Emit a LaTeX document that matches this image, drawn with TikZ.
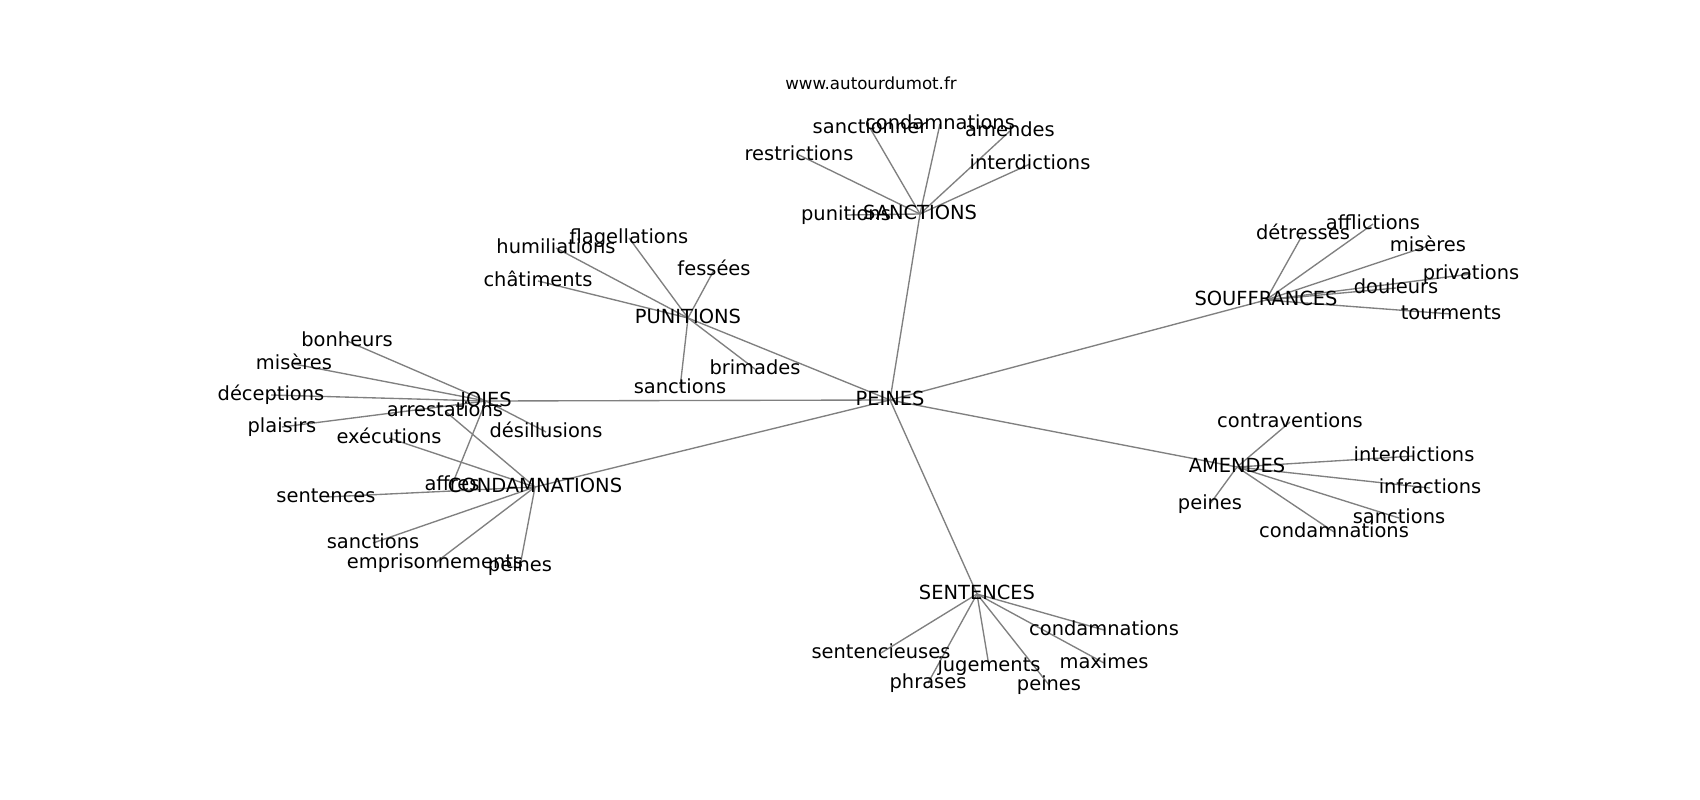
\documentclass[tikz,border=0pt]{standalone}
\usepackage{fontspec}
\setmainfont{DejaVu Sans}
\pgfdeclarelayer{bg}
\pgfsetlayers{bg,main}
\begin{document}
\begin{tikzpicture}[x=1bp,y=-1bp,
  lbl/.style={font=\fontsize{19.44bp}{23bp}\selectfont, inner sep=0pt, text height=14.8bp, text depth=4.7bp, anchor=center},
  small/.style={font=\fontsize{16.67bp}{20bp}\selectfont, inner sep=0pt, anchor=center},
  edge/.style={draw=gray, line width=1.35bp}]
\useasboundingbox (0,0) rectangle (1700,800);
\node[small] (site) at (871,83) {www.autourdumot.fr};
% hubs
\node[lbl] (peines) at (890,400) {PEINES};
\node[lbl] (sanct) at (920,214) {SANCTIONS};
\node[lbl] (punit) at (688,318) {PUNITIONS};
\node[lbl] (joies) at (486,401) {JOIES};
\node[lbl] (condam) at (535,487) {CONDAMNATIONS};
\node[lbl] (souff) at (1266,300) {SOUFFRANCES};
\node[lbl] (amend) at (1237,467) {AMENDES};
\node[lbl] (sent) at (977,594) {SENTENCES};
% SANCTIONS leaves
\node[lbl] (sa1) at (870,128) {sanctionner};
\node[lbl] (sa2) at (940,124) {condamnations};
\node[lbl] (sa3) at (1010,131) {amendes};
\node[lbl] (sa4) at (799,155) {restrictions};
\node[lbl] (sa5) at (1030,164) {interdictions};
\node[lbl] (sa6) at (846,215) {punitions};
% PUNITIONS leaves
\node[lbl] (pu1) at (556,248) {humiliations};
\node[lbl] (pu2) at (629,238) {flagellations};
\node[lbl] (pu3) at (714,270) {fessées};
\node[lbl] (pu4) at (538,281) {châtiments};
\node[lbl] (pu5) at (680,388) {sanctions};
\node[lbl] (pu6) at (755,369) {brimades};
% JOIES leaves
\node[lbl] (jo1) at (347,341) {bonheurs};
\node[lbl] (jo2) at (294,364) {misères};
\node[lbl] (jo3) at (271,395) {déceptions};
\node[lbl] (jo4) at (282,427) {plaisirs};
\node[lbl] (jo5) at (546,432) {désillusions};
\node[lbl] (jo6) at (452,485) {affres};
% CONDAMNATIONS leaves
\node[lbl] (co1) at (445,411) {arrestations};
\node[lbl] (co2) at (389,438) {exécutions};
\node[lbl] (co3) at (326,497) {sentences};
\node[lbl] (co4) at (373,543) {sanctions};
\node[lbl] (co5) at (435,563) {emprisonnements};
\node[lbl] (co6) at (520,566) {peines};
% SOUFFRANCES leaves
\node[lbl] (so1) at (1303,234) {détresses};
\node[lbl] (so2) at (1373,224) {afflictions};
\node[lbl] (so3) at (1428,246) {misères};
\node[lbl] (so4) at (1471,274) {privations};
\node[lbl] (so5) at (1396,288) {douleurs};
\node[lbl] (so6) at (1451,314) {tourments};
% AMENDES leaves
\node[lbl] (am1) at (1290,422) {contraventions};
\node[lbl] (am2) at (1414,456) {interdictions};
\node[lbl] (am3) at (1430,488) {infractions};
\node[lbl] (am4) at (1399,518) {sanctions};
\node[lbl] (am5) at (1334,532) {condamnations};
\node[lbl] (am6) at (1210,504) {peines};
% SENTENCES leaves
\node[lbl] (se1) at (1104,630) {condamnations};
\node[lbl] (se2) at (881,653) {sentencieuses};
\node[lbl] (se3) at (989,666) {jugements};
\node[lbl] (se4) at (1104,663) {maximes};
\node[lbl] (se5) at (928,683) {phrases};
\node[lbl] (se6) at (1049,685) {peines};
\begin{pgfonlayer}{bg}
\fill[white] (0,0) rectangle (1700,800);
\foreach \h in {sanct,punit,joies,condam,souff,amend,sent}
  \draw[edge] (peines.center) -- (\h.center);
\foreach \l in {sa1,sa2,sa3,sa4,sa5,sa6}
  \draw[edge] (sanct.center) -- (\l.center);
\foreach \l in {pu1,pu2,pu3,pu4,pu5,pu6}
  \draw[edge] (punit.center) -- (\l.center);
\foreach \l in {jo1,jo2,jo3,jo4,jo5,jo6}
  \draw[edge] (joies.center) -- (\l.center);
\foreach \l in {co1,co2,co3,co4,co5,co6}
  \draw[edge] (condam.center) -- (\l.center);
\foreach \l in {so1,so2,so3,so4,so5,so6}
  \draw[edge] (souff.center) -- (\l.center);
\foreach \l in {am1,am2,am3,am4,am5,am6}
  \draw[edge] (amend.center) -- (\l.center);
\foreach \l in {se1,se2,se3,se4,se5,se6}
  \draw[edge] (sent.center) -- (\l.center);
\end{pgfonlayer}
\end{tikzpicture}
\end{document}
